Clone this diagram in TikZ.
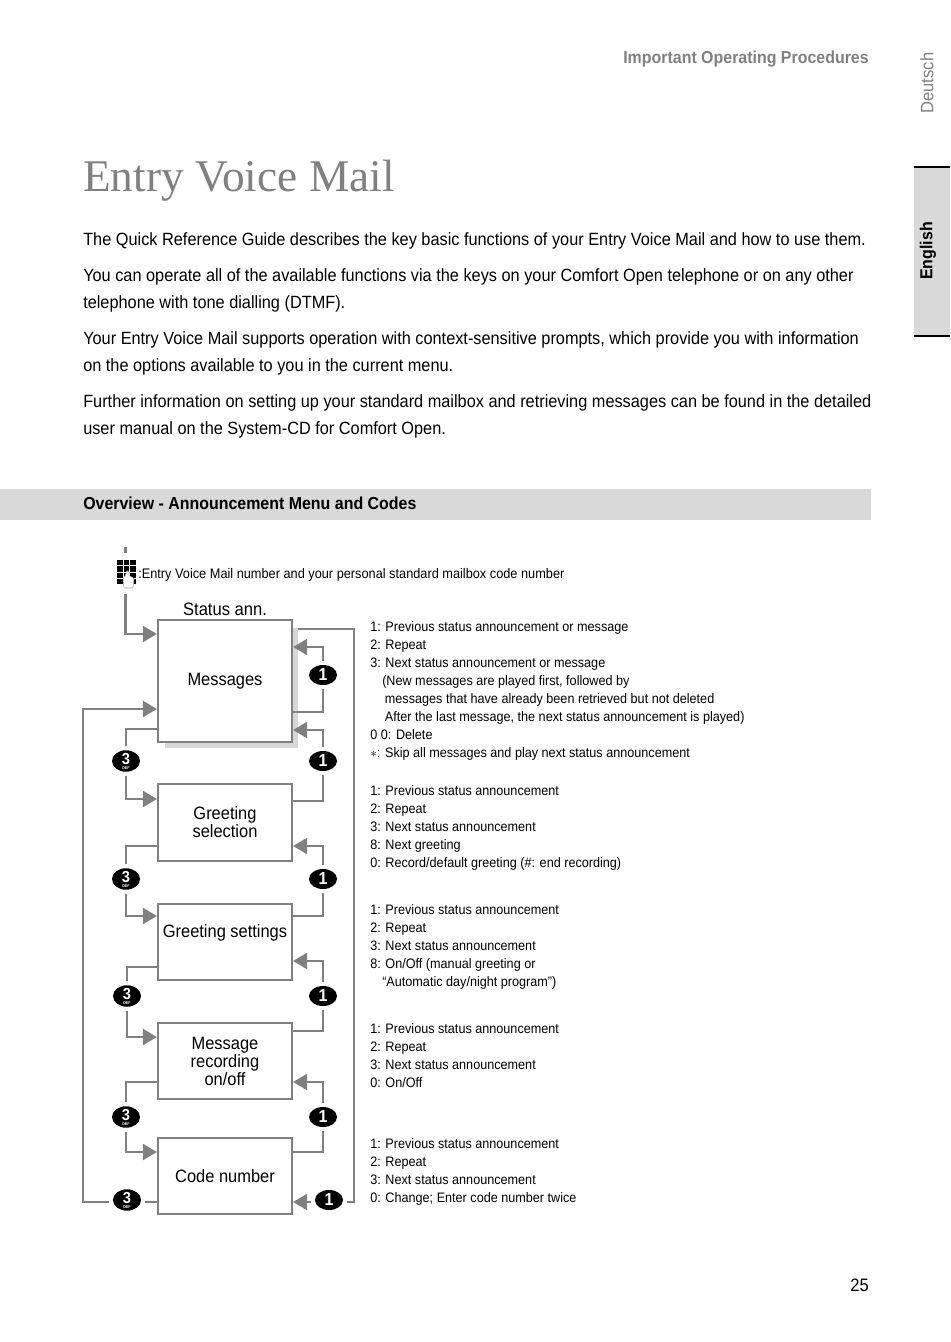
\documentclass[tikz,border=0pt]{standalone}
\usepackage{fontspec}
\setmainfont[FakeStretch=0.92]{Liberation Sans}
\newfontfamily\titlefont{Liberation Serif}
\usetikzlibrary{arrows.meta,positioning,shapes.geometric}
\definecolor{headgray}{RGB}{128,128,128}
\definecolor{linegray}{RGB}{128,128,128}
\definecolor{bandgray}{RGB}{217,217,217}
\definecolor{shadegray}{RGB}{215,215,215}
\newcommand{\pagefont}{\fontsize{13.3}{20.25}\selectfont}
\newcommand{\listfont}{\fontsize{10.3}{13.5}\selectfont}

\begin{document}
\begin{tikzpicture}[x=0.75pt,y=-0.75pt,
    stagebox/.style={draw=linegray, line width=1.6pt, fill=white, minimum width=100.5pt, align=center, font=\fontsize{13.4}{13.5}\selectfont, inner sep=0pt},
    listtext/.style={anchor=north west, align=left, inner sep=0pt, font=\listfont},
    pagetext/.style={anchor=north west, align=left, inner sep=0pt, font=\pagefont},
    keyone/.style={ellipse, fill=black, text=white, minimum width=21pt, minimum height=15pt, inner sep=0pt, outer sep=3pt, font=\bfseries\fontsize{13}{13}\selectfont},
    keythree/.style={keyone, font=\bfseries\fontsize{12}{12}\selectfont, label={[text=white, inner sep=0pt, yshift=-5.3pt, font=\bfseries\fontsize{3}{3}\selectfont]center:DEF}},
    flow/.style={draw=linegray, line width=1.6pt},
    arrow/.style={flow, -{Triangle[length=10.5pt,width=12pt,fill=linegray]}}
]
    \useasboundingbox (0,0) rectangle (950,1342);
    % page head
    \node[anchor=east, inner sep=0pt, text=headgray, font=\bfseries\fontsize{13}{14}\selectfont] (head) at (869,59) {Important Operating Procedures};
    \node[rotate=90, inner sep=0pt, text=headgray, font=\fontsize{13.5}{14}\selectfont] (de) at (927,83) {Deutsch};
    \fill[bandgray] (914,168) rectangle (950,335);
    \draw[line width=1.6pt] (914,167) -- (950,167) (914,336) -- (950,336);
    \node[rotate=90, inner sep=0pt, font=\bfseries\fontsize{13}{14}\selectfont] (en) at (928,251) {English};
    \node[anchor=west, inner sep=0pt, text=headgray, font=\titlefont\fontsize{34}{40}\selectfont] (title) at (83,181) {Entry Voice Mail};
    % intro
    \node[pagetext] (p1) at (83,232) {The Quick Reference Guide describes the key basic functions of your Entry Voice Mail and how to use them.};
    \node[pagetext] (p2) at (83,268) {You can operate all of the available functions via the keys on your Comfort Open telephone or on any other\\telephone with tone dialling (DTMF).};
    \node[pagetext] (p3) at (83,331) {Your Entry Voice Mail supports operation with context-sensitive prompts, which provide you with information\\on the options available to you in the current menu.};
    \node[pagetext] (p4) at (83,394) {Further information on setting up your standard mailbox and retrieving messages can be found in the detailed\\user manual on the System-CD for Comfort Open.};
    \fill[bandgray] (0,489) rectangle (871,520);
    \node[anchor=west, inner sep=0pt, font=\bfseries\fontsize{13}{14}\selectfont] (over) at (83,503) {Overview - Announcement Menu and Codes};
    % keypad
    \coordinate (tick) at (125.5,547);
    \coordinate (keyin) at (125.5,594);
    \draw[flow] (tick) -- ++(0,6);
    \foreach \r in {0,1,2,3}
        \foreach \c in {0,1,2}
            \fill (117+\c*6.6,560+\r*6.3) rectangle ++(5.6,5.2);
    \draw[draw=gray!60, fill=white, line width=0.5pt, rounded corners=1pt] (124,588) -- (123,578) -- (126,575) -- (126,571) -- (129,571) -- (129,576) -- (134,578) -- (133,588) -- cycle;
    \node[anchor=west, inner sep=0pt, font=\fontsize{10.4}{13.5}\selectfont] (keytext) at (138,575) {:Entry Voice Mail number and your personal standard mailbox code number};
    \node[anchor=center, inner sep=0pt, font=\fontsize{13.5}{14}\selectfont] (status) at (225,609) {Status ann.};
    % menu boxes
    \fill[shadegray] (165,628) rectangle (298,748);
    \node[stagebox, minimum height=91.5pt] (msg) at (225,681) {Messages};
    \node[stagebox, minimum height=57.75pt] (sel) at (225,822.5) {Greeting\\selection};
    \node[stagebox, minimum height=57pt] (set) at (225,942) {Greeting settings\\[3pt]~};
    \node[stagebox, minimum height=57pt] (rec) at (225,1061) {Message\\recording\\on/off};
    \node[stagebox, minimum height=57pt] (code) at (225,1176) {Code number};
    % keys
    \node[keyone] (onea) at (323,675) {1};
    \node[keyone] (oneb) at (323,761) {1};
    \node[keyone] (onec) at (323,879) {1};
    \node[keyone] (oned) at (323,996) {1};
    \node[keyone] (onee) at (323,1117) {1};
    \node[keyone] (onef) at (329,1200) {1};
    \node[keythree] (threea) at (126,761) {\raisebox{3pt}{3}};
    \node[keythree] (threeb) at (126,879) {\raisebox{3pt}{3}};
    \node[keythree] (threec) at (127,996) {\raisebox{3pt}{3}};
    \node[keythree] (threed) at (126,1117) {\raisebox{3pt}{3}};
    \node[keythree] (threee) at (127,1200) {\raisebox{3pt}{3}};
    % connectors
    \draw[arrow] (keyin) |- (msg.west |- 0,634);
    \draw[arrow] (onea.north) |- (msg.east |- 0,647);
    \draw[flow] (msg.east |- 0,712) -| (onea.south);
    \draw[arrow] (oneb.north) |- (msg.east |- 0,730);
    \draw[flow] (msg.west |- 0,729) -| (threea.north);
    \draw[arrow] (threea.south) |- (sel.west |- 0,799);
    \draw[flow] (sel.east |- 0,801) -| (oneb.south);
    \draw[flow] (sel.west |- 0,846) -| (threeb.north);
    \draw[arrow] (onec.north) |- (sel.east |- 0,846);
    \draw[arrow] (threeb.south) |- (set.west |- 0,916);
    \draw[flow] (set.east |- 0,916) -| (onec.south);
    \draw[flow] (set.west |- 0,967) -| (threec.north);
    \draw[arrow] (oned.north) |- (set.east |- 0,961);
    \draw[arrow] (threec.south) |- (rec.west |- 0,1037);
    \draw[flow] (rec.east |- 0,1031) -| (oned.south);
    \draw[flow] (rec.west |- 0,1082) -| (threed.north);
    \draw[arrow] (onee.north) |- (rec.east |- 0,1082);
    \draw[arrow] (threed.south) |- (code.west |- 0,1152);
    \draw[flow] (code.east |- 0,1152) -| (onee.south);
    \draw[flow] (code.west |- 0,1202) -- (threee.east |- 0,1202);
    \draw[arrow] (onef.west |- 0,1202) -- (code.east |- 0,1202);
    \draw[arrow] (threee.west |- 0,1202) -- (83,1202) -- (83,709) -- (msg.west |- 0,709);
    \draw[flow] (onef.east |- 0,1202) -- (354,1202) -- (354,629) -- (298,629);
    % lists
    \node[listtext] (la) at (370,621) {1: Previous status announcement or message\\2: Repeat\\3: Next status announcement or message\\\hspace*{9pt}(New messages are played first, followed by\\\hspace*{11pt}messages that have already been retrieved but not deleted\\\hspace*{11pt}After the last message, the next status announcement is played)\\0 0: Delete\\$\ast$: Skip all messages and play next status announcement};
    \node[listtext] (lb) at (370,785) {1: Previous status announcement\\2: Repeat\\3: Next status announcement\\8: Next greeting\\0: Record/default greeting (\#: end recording)};
    \node[listtext] (lc) at (370,904) {1: Previous status announcement\\2: Repeat\\3: Next status announcement\\8: On/Off (manual greeting or\\\hspace*{9pt}“Automatic day/night program”)};
    \node[listtext] (ld) at (370,1023) {1: Previous status announcement\\2: Repeat\\3: Next status announcement\\0: On/Off};
    \node[listtext] (le) at (370,1138) {1: Previous status announcement\\2: Repeat\\3: Next status announcement\\0: Change; Enter code number twice};
    \node[anchor=east, inner sep=0pt, font=\fontsize{13.5}{14}\selectfont] (page) at (869,1285) {25};
\end{tikzpicture}
\end{document}
